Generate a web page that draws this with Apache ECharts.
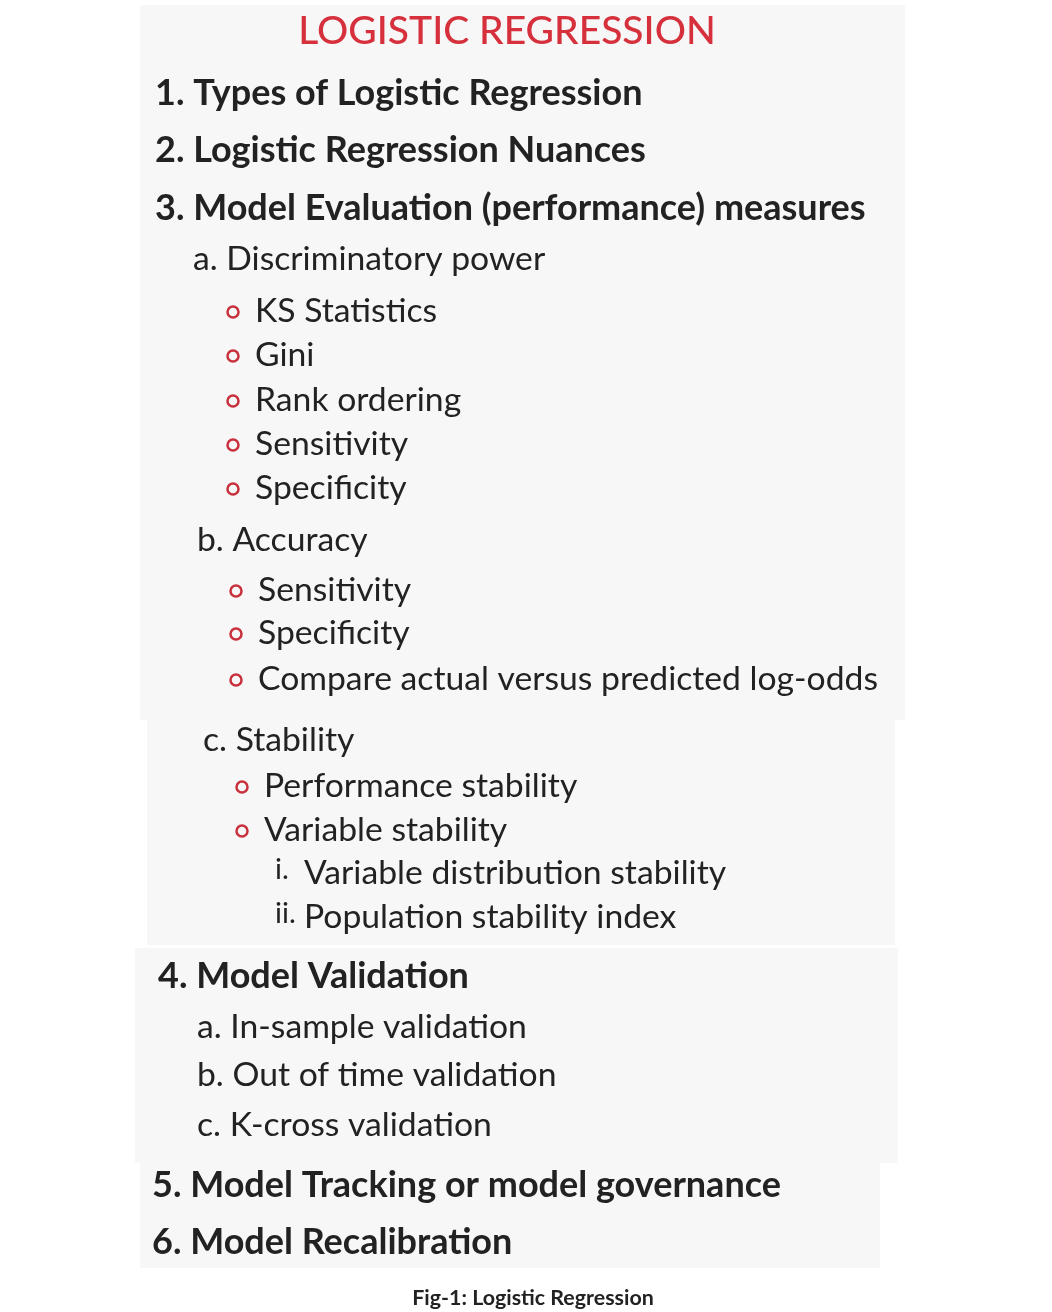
<!DOCTYPE html>
<html><head><meta charset="utf-8">
<script src="https://cdn.jsdelivr.net/npm/echarts@6/dist/echarts.min.js"></script>
<style>html,body{margin:0;padding:0;background:#fff}#c{width:1052px;height:1312px}</style>
</head><body><div id="c"></div>
<script>
const title = "LOGISTIC REGRESSION";
const caption = "Fig-1: Logistic Regression";
const items = [
 "1. Types of Logistic Regression","2. Logistic Regression Nuances","3. Model Evaluation (performance) measures",
 "a. Discriminatory power","KS Statistics","Gini","Rank ordering","Sensitivity","Specificity",
 "b. Accuracy","Sensitivity","Specificity","Compare actual versus predicted log-odds",
 "c. Stability","Performance stability","Variable stability","Variable distribution stability","Population stability index",
 "4. Model Validation","a. In-sample validation","b. Out of time validation","c. K-cross validation",
 "5. Model Tracking or model governance","6. Model Recalibration"];
const levels = [1,1,1, 2,3,3,3,3,3, 2,3,3,3, 2,3,3,4,4, 1,2,2,2, 1,1];
const romans = ["i.","ii."];
// layout
const ys = [93,150,208,259,311,355,400,444,488,540,590,633,679,740,786,830,873,917,976,1027,1075,1125,1185,1242];
const xs = [155,155,155,193,255,255,255,255,255,197,258,258,258,203,264,264,304,304,158,197,197,197,152,152];
const font = 'Lato, "Noto Sans", sans-serif';
const g = [];
[[140,5,765,715],[147,720,748,225],[135,948,763,215],[140,1163,740,105]].forEach(r=>g.push({type:'rect',shape:{x:r[0],y:r[1],width:r[2],height:r[3]},style:{fill:'#f7f7f7'}}));
g.push({type:'text',x:507,y:31,style:{text:title,fill:'#d6303c',font:'500 39px '+font,textAlign:'center',textVerticalAlign:'middle'}});
let r=0;
items.forEach((t,i)=>{
  const lv=levels[i];
  const f = lv===1 ? 'bold 36px '+font : '33.7px '+font;
  g.push({type:'text',x:xs[i],y:ys[i],style:{text:t,fill:'#222',font:f,textVerticalAlign:'middle'}});
  if(lv===3) g.push({type:'circle',shape:{cx:xs[i]-22,cy:ys[i]+1,r:5.5},style:{fill:'none',stroke:'#c8303c',lineWidth:2.5}});
  if(lv===4){ g.push({type:'text',x:275,y:ys[i]-3,style:{text:romans[r++],fill:'#222',font:'29px '+font,textVerticalAlign:'middle'}}); }
});
g.push({type:'text',x:533,y:1298,style:{text:caption,fill:'#222',font:'bold 21.4px '+font,textAlign:'center',textVerticalAlign:'middle'}});
const ch = echarts.init(document.getElementById('c'));
ch.setOption({graphic:{elements:g}});
</script></body></html>
